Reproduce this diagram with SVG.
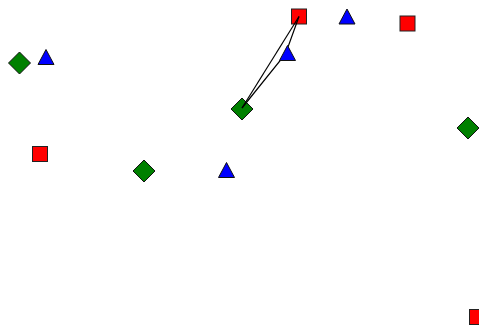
<svg xmlns="http://www.w3.org/2000/svg" width="479" height="327" viewBox="0 0 479 327">
<defs>
<style>
.sq{fill:#ff0000;stroke:#222;stroke-width:1}
.dm{fill:#008000;stroke:#111;stroke-width:1}
.tr{fill:#0000ff;stroke:#111;stroke-width:1}
.edge{fill:none;stroke:#000;stroke-width:1.2}
</style>
<rect id="sqShape" class="sq" x="-7.5" y="-7.5" width="15" height="15"/>
<polygon id="dmShape" class="dm" points="0,-11 11,0 0,11 -11,0"/>
<polygon id="trShape" class="tr" points="0,-7.5 8,7.5 -8,7.5"/>
</defs>
<rect width="479" height="327" fill="#fff"/>
<g id="n1"><use href="#sqShape" x="299" y="16.5"/></g>
<g id="n2"><use href="#trShape" x="347" y="16.5"/></g>
<g id="n3"><use href="#sqShape" x="407.5" y="23.5"/></g>
<g id="n4"><use href="#dmShape" x="19.5" y="63"/></g>
<g id="n5"><use href="#trShape" x="46" y="57"/></g>
<g id="n7"><use href="#dmShape" x="242" y="109"/></g>
<g id="n8"><use href="#dmShape" x="468" y="128"/></g>
<g id="n9"><use href="#sqShape" x="40" y="154"/></g>
<g id="n10"><use href="#dmShape" x="144" y="171"/></g>
<g id="n11"><use href="#trShape" x="226.5" y="170"/></g>
<g id="n12"><use href="#sqShape" x="477" y="317"/></g>
<g id="connectors">
<path class="edge" d="M299,16.5 L242,108"/>
<path class="edge" d="M299,16.5 L285.5,54 L242,108"/>
</g>
<g id="n6"><use href="#trShape" x="287.5" y="53"/></g>
</svg>
